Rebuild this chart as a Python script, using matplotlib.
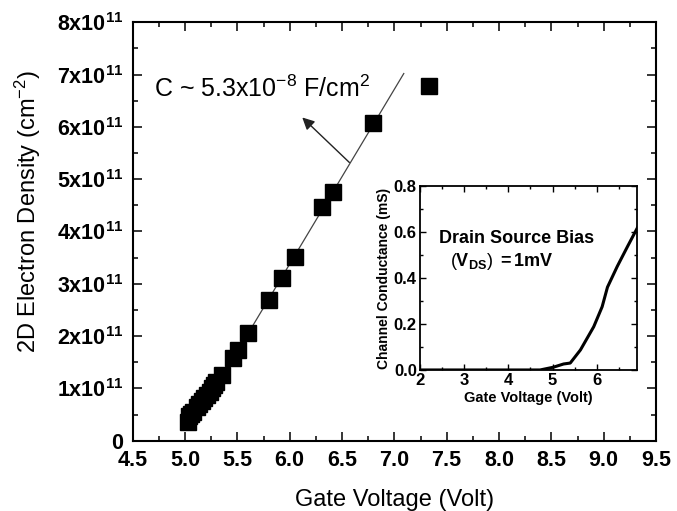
import numpy as np
import matplotlib
matplotlib.use("Agg")
import matplotlib.pyplot as plt
from matplotlib.ticker import MultipleLocator, FixedLocator

plt.rcParams['font.family'] = ['Liberation Sans', 'DejaVu Sans']
plt.rcParams['mathtext.fontset'] = 'custom'
plt.rcParams['mathtext.rm'] = 'Liberation Sans'
plt.rcParams['mathtext.bf'] = 'Liberation Sans:bold'
plt.rcParams['mathtext.it'] = 'Liberation Sans:italic'

# main panel: 2D electron density vs gate voltage (units of 1e11 cm^-2)
gate_v = [5.03, 5.04, 5.06, 5.08, 5.11, 5.13, 5.16, 5.185, 5.21, 5.24, 5.26,
          5.28, 5.30, 5.35, 5.46, 5.51, 5.60, 5.80, 5.93, 6.05, 6.31, 6.41,
          6.80, 7.33]
density = [0.36, 0.47, 0.51, 0.55, 0.65, 0.70, 0.75, 0.81, 0.87, 0.93, 1.00,
           1.06, 1.13, 1.26, 1.59, 1.73, 2.05, 2.69, 3.11, 3.52, 4.47, 4.75,
           6.07, 6.78]

# linear fit line end points
fit_v = [5.1, 7.09]
fit_n = [0.37, 7.02]

# arrow from the fit line to the label
arrow_tail = (6.57, 5.32)
arrow_head = (6.12, 6.18)

main_xticks = [4.5, 5.0, 5.5, 6.0, 6.5, 7.0, 7.5, 8.0, 8.5, 9.0, 9.5]
main_yticks = [0, 1, 2, 3, 4, 5, 6, 7, 8]

# inset: channel conductance vs gate voltage
inset_v = [2.0, 3.0, 4.0, 4.72, 5.02, 5.25, 5.40, 5.63, 5.93, 6.12, 6.24,
           6.46, 6.69, 6.92]
inset_g = [0.0, 0.0, 0.0, 0.0, 0.012, 0.026, 0.03, 0.087, 0.188, 0.275, 0.36,
           0.45, 0.536, 0.62]
inset_xticks = [2, 3, 4, 5, 6]
inset_yticks = [0.0, 0.2, 0.4, 0.6, 0.8]

fig = plt.figure(figsize=(6.77, 5.11), dpi=100)
ax = fig.add_axes([0.196, 0.1376, 0.773, 0.8188])

ax.plot(fit_v, fit_n, color='#444444', lw=0.9, zorder=2)
ax.plot(gate_v, density, 's', color='black', ms=11, mec='black', zorder=3)
ax.annotate('', xy=arrow_head, xytext=arrow_tail,
            arrowprops=dict(arrowstyle='-|>', color='#222222', lw=1.0,
                            mutation_scale=18, shrinkA=0, shrinkB=0))
ax.text(4.70, 6.58, r'C ~ 5.3x10$^{-8}$ F/cm$^{2}$', fontsize=18,
        ha='left', va='baseline')

ax.set_xlim(4.5, 9.5)
ax.set_ylim(0, 8)
ax.xaxis.set_major_locator(FixedLocator(main_xticks))
ax.xaxis.set_minor_locator(MultipleLocator(0.25))
ax.yaxis.set_major_locator(FixedLocator(main_yticks))
ax.yaxis.set_minor_locator(MultipleLocator(0.5))
ax.set_xticklabels([f'{v:.1f}' for v in main_xticks], fontsize=15.5,
                   fontweight='bold')
ax.set_yticklabels(['0'] + [r'$\mathbf{%dx10^{11}}$' % v for v in main_yticks[1:]],
                   fontsize=15.5, fontweight='bold')
ax.tick_params(which='both', direction='in', top=True, right=True, width=1.1)
ax.tick_params(which='major', length=6.5, pad=7)
ax.tick_params(which='minor', length=3.6)
for s in ax.spines.values():
    s.set_linewidth(1.5)

ax.set_xlabel('Gate Voltage (Volt)', fontsize=17)
ax.set_ylabel(r'2D Electron Density (cm$^{-2}$)', fontsize=17)
ax.xaxis.set_label_coords(0.5, -0.115)
ax.yaxis.set_label_coords(-0.172, 0.547)

# inset
ins = fig.add_axes([0.6197, 0.276, 0.3208, 0.360])
ins.plot(inset_v, inset_g, color='black', lw=2.2)
ins.set_xlim(2, 6.9)
ins.set_ylim(0, 0.8)
ins.xaxis.set_major_locator(FixedLocator(inset_xticks))
ins.xaxis.set_minor_locator(MultipleLocator(0.5))
ins.yaxis.set_major_locator(FixedLocator(inset_yticks))
ins.yaxis.set_minor_locator(MultipleLocator(0.1))
ins.set_xticklabels([str(v) for v in inset_xticks], fontsize=12,
                    fontweight='bold')
ins.set_yticklabels([f'{v:.1f}' for v in inset_yticks], fontsize=12,
                    fontweight='bold')
ins.tick_params(which='both', direction='in', top=True, right=True, width=1.0)
ins.tick_params(which='major', length=4, pad=2)
ins.tick_params(which='minor', length=2.5)
for s in ins.spines.values():
    s.set_linewidth(1.3)
ins.set_xlabel('Gate Voltage (Volt)', fontsize=10.5, fontweight='bold',
               labelpad=2.5)
ins.set_ylabel('Channel Conductance (mS)', fontsize=10, fontweight='bold',
               labelpad=2)
ins.text(2.45, 0.573, 'Drain Source Bias', fontsize=13, fontweight='bold',
         ha='left', va='center')
ins.text(2.69, 0.471, r'$\mathrm{(}\mathbf{V_{DS}}\mathrm{)}$ $\mathbf{=1mV}$',
         fontsize=13, ha='left', va='center')

fig.savefig('out.png', dpi=100)
